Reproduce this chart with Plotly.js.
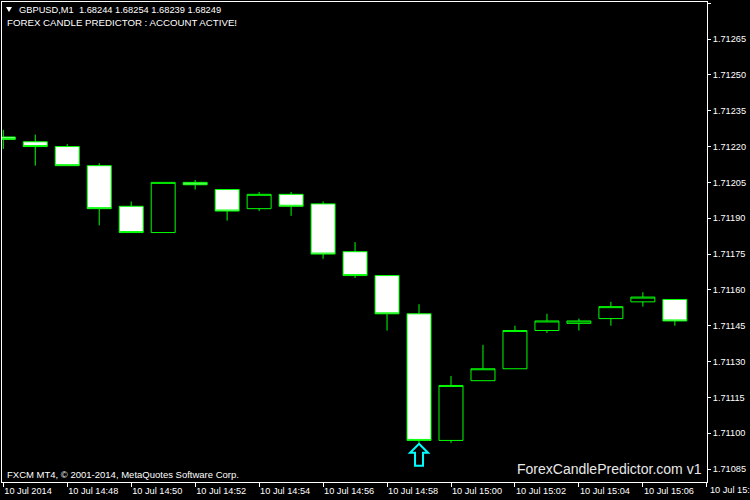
<!DOCTYPE html>
<html>
<head>
<meta charset="utf-8">
<script src="https://cdn.plot.ly/plotly-3.0.1.min.js"></script>
<style>html,body{margin:0;padding:0;background:#000;overflow:hidden;}#chart{width:750px;height:500px;}</style>
</head>
<body>
<div id="chart"></div>
<script>
// One-minute GBPUSD candles, 10 Jul 2014
const times = ['14:46','14:47','14:48','14:49','14:50','14:51','14:52','14:53','14:54','14:55','14:56',
               '14:57','14:58','14:59','15:00','15:01','15:02','15:03','15:04','15:05','15:06','15:07'];
const openP  = [1.71224,1.71222,1.71220,1.71212,1.71195,1.71184,1.71205,1.71202,1.71194,1.71200,1.71196,
                1.71176,1.71166,1.71150,1.71097,1.71122,1.71127,1.71143,1.71146,1.71148,1.71155,1.71156];
const highP  = [1.71227,1.71225,1.71221,1.71213,1.71197,1.71205,1.71206,1.71202,1.71201,1.71201,1.71197,
                1.71180,1.71166,1.71154,1.71124,1.71137,1.71145,1.71150,1.71148,1.71155,1.71159,1.71156];
const lowP   = [1.71219,1.71212,1.71212,1.71187,1.71184,1.71184,1.71202,1.71189,1.71193,1.71191,1.71173,
                1.71165,1.71143,1.71096,1.71096,1.71122,1.71127,1.71142,1.71143,1.71145,1.71153,1.71145];
const closeP = [1.71223,1.71220,1.71212,1.71194,1.71184,1.71205,1.71204,1.71193,1.71200,1.71195,1.71175,
                1.71166,1.71150,1.71097,1.71120,1.71127,1.71143,1.71147,1.71147,1.71153,1.71157,1.71147];
const tickIdx   = [0,2,4,6,8,10,12,14,16,18,20,22];
const tickLabels = ['10 Jul 2014','10 Jul 14:48','10 Jul 14:50','10 Jul 14:52','10 Jul 14:54','10 Jul 14:56',
                    '10 Jul 14:58','10 Jul 15:00','10 Jul 15:02','10 Jul 15:04','10 Jul 15:06','10 Jul 15:08'];
// predictor signal (up arrow) on the 14:59 candle
const signalTime = '14:59';

const xIdx = times.map((t, i) => i);
const sigI = times.indexOf(signalTime);

const W = 750, H = 500, ML = 2, MR = 43, MT = 2, MB = 18;
const pw = W - ML - MR, ph = H - MT - MB;
const px = x => (x - ML) / pw;
const py = y => (H - MB - y) / ph;

const FONT = 'Liberation Sans, Arial, sans-serif';
const GREEN = '#00ff00';
const TICKSIZE = 9.2;

const trace = {
  type: 'candlestick',
  x: xIdx, open: openP, high: highP, low: lowP, close: closeP,
  whiskerwidth: 0,
  increasing: {line: {color: GREEN, width: 1}, fillcolor: '#000000'},
  decreasing: {line: {color: GREEN, width: 1}, fillcolor: '#ffffff'},
  hoverinfo: 'skip'
};

function txt(x, y, text, size, color, anchor) {
  return {xref: 'paper', yref: 'paper', x: px(x), y: py(y), text: text, showarrow: false,
          xanchor: anchor || 'left', yanchor: 'middle',
          font: {family: FONT, size: size, color: color || '#ffffff'}};
}

const lastTick = tickIdx.length - 1;

const layout = {
  width: W, height: H,
  paper_bgcolor: '#000000', plot_bgcolor: '#000000',
  margin: {l: ML, r: MR, t: MT, b: MB, pad: 0},
  showlegend: false,
  boxgap: 0.25, boxgroupgap: 0,
  hovermode: false,
  xaxis: {
    range: [-0.04, 22.005], tickmode: 'array', tickvals: tickIdx,
    ticktext: tickLabels.map((s, i) => i === lastTick ? '' : s),
    ticks: 'outside', ticklen: 4, tickcolor: '#ffffff', tickwidth: 1,
    ticklabelposition: 'outside right',
    showline: true, linecolor: '#ffffff', linewidth: 1, mirror: true,
    showgrid: false, zeroline: false, fixedrange: true,
    rangeslider: {visible: false},
    tickfont: {family: FONT, size: TICKSIZE, color: '#ffffff'}
  },
  yaxis: {
    side: 'right', range: [1.710796, 1.712805],
    tickmode: 'linear', tick0: 1.71085, dtick: 0.00015, tickformat: '.5f',
    ticks: 'outside', ticklen: 3, tickcolor: '#ffffff', tickwidth: 1,
    showline: true, linecolor: '#ffffff', linewidth: 1, mirror: true,
    showgrid: false, zeroline: false, fixedrange: true,
    tickfont: {family: FONT, size: TICKSIZE, color: '#ffffff'}
  },
  shapes: [
    {type: 'path', xref: 'x', yref: 'y', xsizemode: 'pixel', ysizemode: 'pixel',
     xanchor: sigI, yanchor: lowP[sigI],
     path: 'M0,-1 L9,-10 L4,-10 L4,-23 L-4,-23 L-4,-10 L-9,-10 Z',
     line: {color: '#00ffff', width: 2}, fillcolor: 'rgba(0,0,0,0)'},
    {type: 'path', xref: 'paper', yref: 'paper',
     path: 'M' + px(6) + ',' + py(7) + ' L' + px(12) + ',' + py(7) + ' L' + px(9) + ',' + py(12) + ' Z',
     line: {width: 0}, fillcolor: '#ffffff'}
  ],
  annotations: [
    txt(17, 10, 'GBPUSD,M1  1.68244 1.68254 1.68239 1.68249', 9.3),
    txt(5, 23, 'FOREX CANDLE PREDICTOR : ACCOUNT ACTIVE!', 9.7),
    txt(5, 474, 'FXCM MT4, \u00a9 2001-2014, MetaQuotes Software Corp.', 9.5),
    txt(704, 469, 'ForexCandlePredictor.com v1', 14, '#e8e8e8', 'right'),
    {xref: 'x', yref: 'paper', x: tickIdx[lastTick], y: py(490), xanchor: 'left', yanchor: 'middle',
     xshift: 1, text: tickLabels[lastTick], showarrow: false,
     font: {family: FONT, size: TICKSIZE, color: '#ffffff'}}
  ]
};

Plotly.newPlot('chart', [trace], layout, {staticPlot: true, displayModeBar: false});
</script>
</body>
</html>
